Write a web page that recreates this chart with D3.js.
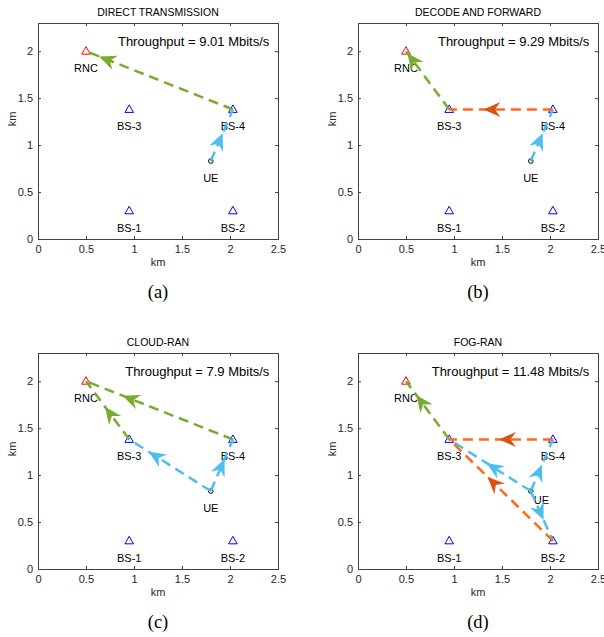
<!DOCTYPE html>
<html>
<head>
<meta charset="utf-8">
<script src="https://cdn.jsdelivr.net/npm/d3@7"></script>
<style>
  body { margin: 0; background: #fff; }
  text { font-family: "Liberation Sans", Arial, sans-serif; fill: #000; }
  .axis path, .axis line { stroke: #404040; }
  .axis text { font-size: 11px; fill: #262626; }
  .caption { font-family: "Liberation Serif", "Times New Roman", serif; font-size: 18.5px; }
</style>
</head>
<body>
<svg id="chart"></svg>
<script>
// network nodes (km)
const nodeNames = ["RNC", "BS-1", "BS-2", "BS-3", "BS-4", "UE"];
const nodeX = [0.5, 0.95, 2.03, 0.95, 2.03, 1.8];
const nodeY = [2.0, 0.3, 0.3, 1.38, 1.38, 0.83];

const panelTitles = ["DIRECT TRANSMISSION", "DECODE AND FORWARD", "CLOUD-RAN", "FOG-RAN"];
const panelLetters = ["(a)", "(b)", "(c)", "(d)"];
const throughputs = [9.01, 9.29, 7.9, 11.48];

// links: [from, to, kind, fraction along the link where the arrow tip sits]
const linksA = [["UE", "BS-4", "access", 0.54], ["BS-4", "RNC", "backhaul", 0.91]];
const linksB = [["UE", "BS-4", "access", 0.54], ["BS-4", "BS-3", "relay", 0.67], ["BS-3", "RNC", "backhaul", 0.97]];
const linksC = [["UE", "BS-4", "access", 0.62], ["UE", "BS-3", "access", 0.76],
                ["BS-4", "RNC", "backhaul", 0.75], ["BS-3", "RNC", "backhaul", 0.56]];
const linksD = [["UE", "BS-4", "access", 0.51], ["UE", "BS-3", "access", 0.54], ["UE", "BS-2", "access", 0.58],
                ["BS-3", "RNC", "backhaul", 0.76], ["BS-4", "BS-3", "relay", 0.52], ["BS-2", "BS-3", "relay", 0.63]];
const panelLinks = [linksA, linksB, linksC, linksD];

const xTicks = [0, 0.5, 1, 1.5, 2, 2.5];
const yTicks = [0, 0.5, 1, 1.5, 2];

const lineColor = { access: "#4DBEEE", backhaul: "#77AC30", relay: "#FF6A1A" };
const headColor = { access: "#4DBEEE", backhaul: "#77AC30", relay: "#D95319" };

const W = 604, H = 637;
const pw = 240, ph = 216;
const panelPos = [[38, 23], [358, 23], [38, 353], [358, 353]];

const svg = d3.select("#chart").attr("width", W).attr("height", H);

const xScale = d3.scaleLinear().domain([0, 2.5]).range([0, pw]);
const yScale = d3.scaleLinear().domain([0, 2.3]).range([ph, 0]);

const idx = name => nodeNames.indexOf(name);

panelTitles.forEach((title, p) => {
  const [px, py] = panelPos[p];
  const g = svg.append("g").attr("transform", `translate(${px},${py})`);

  // title
  g.append("text")
    .attr("x", pw / 2).attr("y", -7)
    .attr("text-anchor", "middle")
    .style("font-size", "10.5px")
    .text(title);

  // axes with inward ticks on all four sides
  g.append("g").attr("class", "axis")
    .attr("transform", `translate(0,${ph})`)
    .call(d3.axisBottom(xScale).tickValues(xTicks).tickSize(-3).tickPadding(6).tickFormat(d3.format("")));
  g.append("g").attr("class", "axis")
    .call(d3.axisLeft(yScale).tickValues(yTicks).tickSize(-3).tickPadding(5).tickFormat(d3.format("")));
  g.append("g").attr("class", "axis")
    .call(d3.axisTop(xScale).tickValues(xTicks).tickSize(-3).tickFormat(""));
  g.append("g").attr("class", "axis")
    .attr("transform", `translate(${pw},0)`)
    .call(d3.axisRight(yScale).tickValues(yTicks).tickSize(-3).tickFormat(""));
  g.selectAll(".axis .domain").attr("stroke", "#404040");

  // axis labels
  g.append("text")
    .attr("x", pw / 2).attr("y", ph + 27)
    .attr("text-anchor", "middle")
    .style("font-size", "11px").style("fill", "#262626")
    .text("km");
  g.append("text")
    .attr("transform", `translate(-22,${ph / 2 - 12}) rotate(-90)`)
    .attr("text-anchor", "middle")
    .style("font-size", "11px").style("fill", "#262626")
    .text("km");

  // caption
  g.append("text").attr("class", "caption")
    .attr("x", pw / 2).attr("y", ph + 59)
    .attr("text-anchor", "middle")
    .text(panelLetters[p]);

  // throughput
  g.append("text")
    .attr("x", xScale(2.41)).attr("y", yScale(2.06))
    .attr("text-anchor", "end")
    .style("font-size", "13px")
    .text(`Throughput = ${throughputs[p]} Mbits/s`);

  // node markers
  nodeNames.forEach((name, i) => {
    const cx = xScale(nodeX[i]), cy = yScale(nodeY[i]);
    if (name === "UE") {
      g.append("circle").attr("cx", cx).attr("cy", cy).attr("r", 2.3)
        .attr("fill", "none").attr("stroke", "#000").attr("stroke-width", 1);
    } else {
      g.append("path")
        .attr("d", `M${cx},${cy - 4.5} L${cx + 4.3},${cy + 3} L${cx - 4.3},${cy + 3} Z`)
        .attr("fill", "none")
        .attr("stroke", name === "RNC" ? "#FF0000" : "#0000FF")
        .attr("stroke-width", 1);
    }
    let lx = nodeX[i], ly = nodeY[i] - 0.18;
    if (name === "UE" && p === 3) { lx += 0.11; ly += 0.08; }
    g.append("text")
      .attr("x", xScale(lx)).attr("y", yScale(ly))
      .attr("dy", "0.36em")
      .attr("text-anchor", "middle")
      .style("font-size", "11px")
      .text(name);
  });

  // links
  const line = d3.line().x(d => xScale(d[0])).y(d => yScale(d[1]));
  const order = { access: 0, backhaul: 1, relay: 2 };
  const links = panelLinks[p].slice().sort((a, b) => order[a[2]] - order[b[2]]);
  links.forEach(([from, to, kind, t]) => {
    const a = [nodeX[idx(from)], nodeY[idx(from)]];
    const b = [nodeX[idx(to)], nodeY[idx(to)]];
    g.append("path")
      .attr("d", line([a, b]))
      .attr("fill", "none")
      .attr("stroke", lineColor[kind])
      .attr("stroke-width", 2.5)
      .attr("stroke-dasharray", "10,6");
    const tx = xScale(a[0] + t * (b[0] - a[0]));
    const ty = yScale(a[1] + t * (b[1] - a[1]));
    const ang = Math.atan2(yScale(b[1]) - yScale(a[1]), xScale(b[0]) - xScale(a[0])) * 180 / Math.PI;
    g.append("path")
      .attr("d", "M0,0 L-17,-7.5 L-11.5,0 L-17,7.5 Z")
      .attr("transform", `translate(${tx},${ty}) rotate(${ang})`)
      .attr("fill", headColor[kind]);
  });
});
</script>
</body>
</html>
